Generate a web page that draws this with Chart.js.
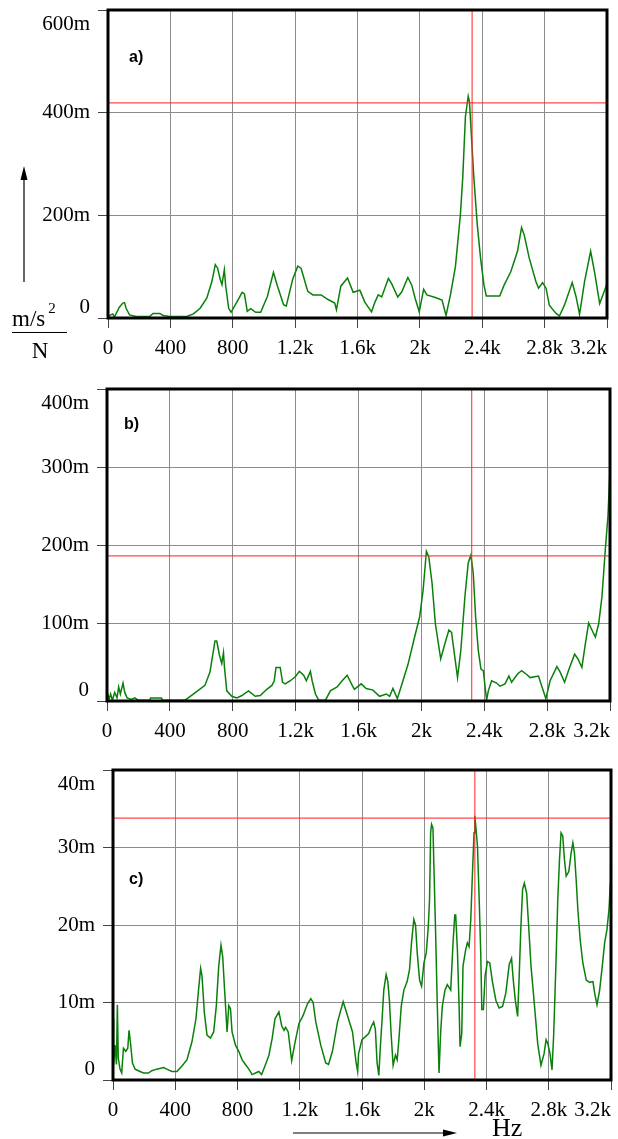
<!DOCTYPE html>
<html><head><meta charset="utf-8">
<script src="https://cdn.jsdelivr.net/npm/chart.js@4/dist/chart.umd.min.js"></script>
<style>
html,body{margin:0;padding:0;background:#fff;width:618px;height:1139px;overflow:hidden;position:relative}
canvas{position:absolute;left:0}
</style></head><body>
<canvas id="ca" width="618" height="365" style="top:0px"></canvas>
<canvas id="cb" width="618" height="370" style="top:370px"></canvas>
<canvas id="cc" width="618" height="389" style="top:750px"></canvas>
<script>
// ---- data (frequency in Hz, magnitude in m(m/s^2)/N) ----
const xTickLabels = ['0','400','800','1.2k','1.6k','2k','2.4k','2.8k','3.2k'];
const yTickLabelsA = ['0','200m','400m','600m'];
const yTickLabelsB = ['0','100m','200m','300m','400m'];
const yTickLabelsC = ['0','10m','20m','30m','40m'];
const panelNames = ['a)','b)','c)'];
const cursorFreq = [2335, 2320, 2325];
const cursorLevel = [419, 186, 33.8];

const freqA = [0,30,41,73,95,106,116,138,181,267,289,332,354,397,505,548,591,634,666,688,703,720,731,746,755,774,789,828,860,875,893,915,947,979,1022,1061,1087,1126,1143,1184,1217,1238,1281,1314,1367,1411,1454,1465,1493,1536,1572,1594,1615,1647,1690,1712,1733,1755,1798,1819,1858,1884,1923,1948,1970,1996,2024,2045,2099,2142,2168,2196,2228,2260,2275,2292,2310,2318,2331,2346,2368,2389,2411,2426,2512,2540,2583,2626,2652,2669,2701,2744,2761,2787,2809,2830,2873,2895,2927,2977,3002,3024,3056,3095,3120,3153,3185,3200];
const valA = [3,8,2,21,29,30,19,6,3,3,9,9,5,3,3,8,19,39,71,104,97,75,65,94,62,19,11,32,50,47,13,18,11,11,42,89,62,26,23,75,101,97,52,45,45,36,29,16,62,78,50,52,54,31,12,31,45,41,77,67,41,51,79,64,38,12,56,45,40,35,5,45,100,202,274,392,432,421,352,274,182,117,64,43,43,64,90,130,176,162,117,71,58,69,58,25,9,4,25,69,41,7,71,130,90,28,54,67];

const freqB = [0,13,23,34,49,64,74,85,102,113,128,155,177,198,272,277,347,353,496,517,570,623,655,687,698,715,730,741,747,762,794,826,858,900,943,975,1017,1049,1064,1075,1102,1117,1134,1166,1198,1224,1251,1268,1294,1305,1326,1347,1390,1421,1464,1496,1528,1560,1574,1617,1649,1692,1734,1777,1798,1819,1847,1872,1915,1957,1989,2011,2032,2047,2068,2089,2123,2149,2175,2192,2213,2230,2251,2277,2298,2315,2330,2345,2362,2379,2394,2415,2426,2447,2479,2500,2532,2557,2574,2613,2638,2670,2692,2745,2766,2792,2819,2862,2883,2911,2936,2975,2996,3021,3043,3064,3085,3107,3128,3149,3170,3187,3200];
const valB = [13,2,9,1,11,4,18,9,23,11,4,2,4,1,1,4,4,1,1,4,12,20,37,77,77,59,48,62,44,13,6,4,7,13,6,7,15,20,26,43,43,24,22,26,31,38,33,26,38,26,9,1,1,13,18,26,33,20,15,22,16,14,6,9,6,16,3,19,47,82,108,142,192,185,151,99,54,73,91,88,56,30,65,134,177,187,164,108,65,41,39,1,13,26,23,19,22,32,24,35,39,34,30,32,19,3,26,44,37,24,39,60,54,43,73,100,91,82,99,134,194,237,297];

const freqC = [0,4,13,22,28,34,45,56,67,82,95,103,112,125,142,163,196,228,249,282,325,346,378,411,443,475,507,533,550,563,572,587,604,626,647,664,679,694,705,718,733,744,755,765,787,808,830,851,873,894,916,937,955,980,1002,1023,1041,1066,1084,1099,1109,1126,1148,1170,1195,1221,1249,1271,1286,1303,1335,1367,1385,1410,1443,1479,1507,1539,1561,1572,1578,1600,1622,1643,1660,1675,1686,1697,1708,1718,1729,1740,1755,1766,1776,1787,1800,1815,1826,1837,1852,1869,1890,1905,1918,1933,1944,1955,1970,1983,1998,2013,2026,2034,2041,2047,2056,2062,2073,2084,2095,2105,2116,2133,2148,2170,2185,2196,2202,2213,2224,2230,2241,2249,2266,2277,2288,2299,2309,2320,2325,2331,2342,2353,2363,2370,2380,2391,2406,2421,2438,2460,2481,2503,2524,2546,2561,2572,2585,2600,2610,2621,2632,2643,2658,2671,2686,2707,2729,2750,2770,2783,2794,2808,2821,2832,2847,2858,2869,2879,2890,2901,2912,2929,2944,2955,2965,2976,2987,3002,3019,3041,3062,3084,3095,3110,3127,3144,3159,3174,3187,3196,3198];
const valC = [7.9,2.0,4.5,2.0,9.7,2.8,1.4,0.9,4.1,3.7,4.1,6.4,4.9,2.2,1.4,1.2,0.9,0.9,1.2,1.4,1.6,1.4,1.1,1.1,1.8,2.6,4.9,7.9,11.7,14.4,13.4,8.7,5.8,5.4,6.2,9.6,14.6,17.4,15.9,11.3,6.2,9.6,9.2,6.2,4.5,3.7,2.6,2.0,1.4,0.7,0.9,1.1,0.7,2.0,3.2,5.4,7.9,8.8,7.0,6.4,6.8,6.2,2.5,4.9,7.3,8.3,9.8,10.5,10.0,7.5,4.5,2.2,2.0,3.7,7.5,10.1,8.3,6.2,2.4,1.1,3.4,5.2,5.6,6.0,6.9,7.5,6.5,2.2,0.6,4.3,7.8,11.6,13.6,12.7,10.3,6.0,1.9,3.2,2.6,5.2,9.5,11.6,12.7,14.2,17.7,20.7,20.0,16.4,12.9,12.1,15.1,16.4,19.8,23.3,31.9,33.0,32.5,27.6,19.0,9.5,0.9,6.0,9.5,11.6,12.3,11.6,17.7,21.3,21.3,16.8,9.5,4.3,6.0,14.7,16.8,17.7,17.2,20.7,26.3,31.9,34.1,32.8,30.2,23.3,16.4,9.1,9.1,13.4,15.3,15.1,12.7,10.3,9.3,9.5,11.2,14.9,15.7,12.9,10.3,8.2,13.4,19.8,24.6,25.4,24.1,19.8,14.7,9.9,4.7,1.9,3.4,5.2,4.7,3.4,1.3,6.0,15.5,23.3,28.4,31.9,31.5,28.4,26.3,26.9,29.3,30.6,29.3,25.9,22.0,18.1,15.1,12.9,12.6,12.7,11.2,9.7,11.6,14.7,17.7,19.4,22.0,25.4,27.6];

// ---- drawing ----
const SERIF = '"Liberation Serif","Times New Roman",serif';
const TICKFONT = {family: SERIF, size: 21};

const decorPlugin = {
  id: 'decor',
  afterDatasetsDraw(chart, args, opts) {
    const ctx = chart.ctx, a = chart.chartArea;
    const ys = chart.scales.y, xs = chart.scales.x;
    ctx.save();
    // frame
    ctx.strokeStyle = '#000'; ctx.lineWidth = 3;
    ctx.strokeRect(a.left, a.top, a.right - a.left, a.bottom - a.top);
    // edge tick labels (shifted inward like the original)
    ctx.fillStyle = '#000';
    ctx.font = '21px ' + SERIF;
    ctx.textAlign = 'right'; ctx.textBaseline = 'middle';
    const labels = opts.yLabels;
    ctx.fillText(labels[labels.length-1], a.left - 18, ys.getPixelForValue(ys.max) + 14);
    ctx.fillText(labels[0], a.left - 18, ys.getPixelForValue(0) - 11);
    // last x tick label, right aligned on its tick
    ctx.textAlign = 'right'; ctx.textBaseline = 'top';
    ctx.fillText(xTickLabels[xTickLabels.length-1], xs.getPixelForValue(3200), a.bottom + opts.xLabelTop);
    // panel name
    ctx.font = 'bold 16px "Liberation Sans",Arial,sans-serif';
    ctx.textAlign = 'left'; ctx.textBaseline = 'middle';
    ctx.fillText(opts.name, opts.nameX, opts.nameY);
    if (opts.extra) opts.extra(ctx, chart);
    ctx.restore();
  }
};

function makeChart(id, freqs, vals, idx, yMax, yStep, yLabels, box, extra) {
  const pts = freqs.map((f, i) => ({x: f, y: vals[i]}));
  const canvas = document.getElementById(id);
  const H = canvas.height;
  return new Chart(canvas, {
    type: 'line',
    data: {
      datasets: [
        {data: [{x:0, y:cursorLevel[idx]}, {x:3200, y:cursorLevel[idx]}], borderColor: 'rgba(255,40,40,0.85)', borderWidth: 1.2, pointRadius: 0, order: 0},
        {data: [{x:cursorFreq[idx], y:0}, {x:cursorFreq[idx], y:yMax}], borderColor: 'rgba(255,40,40,0.85)', borderWidth: 1.2, pointRadius: 0, order: 0},
        {data: pts, borderColor: 'rgb(10,128,10)', borderWidth: 1.5, pointRadius: 0, tension: 0, order: 1}
      ]
    },
    options: {
      responsive: false, animation: false, devicePixelRatio: 1,
      layout: {padding: {left: 0, top: box.top, right: 618 - box.right, bottom: 0}},
      plugins: {legend: {display: false}, tooltip: {enabled: false},
        decor: {yLabels: yLabels, name: panelNames[idx], nameX: box.nameX, nameY: box.nameY, xLabelTop: 20, extra: extra}},
      scales: {
        x: {type: 'linear', min: 0, max: 3200,
          afterFit(s) { s.height = H - box.bottom; s.paddingLeft = 0; s.paddingRight = 0; },
          ticks: {stepSize: 400, autoSkip: false, maxRotation: 0, color: '#000', font: TICKFONT, padding: 8,
            callback: (v, i, t) => (i === t.length - 1 ? '' : xTickLabels[i])},
          grid: {color: '#8c8c8c', lineWidth: 1, tickLength: 10, tickColor: '#444'},
          border: {display: false}},
        y: {min: 0, max: yMax,
          afterFit(s) { s.width = box.left; s.paddingTop = 0; s.paddingBottom = 0; },
          ticks: {stepSize: yStep, color: '#000', font: TICKFONT, padding: 8,
            callback: (v, i, t) => (i === 0 || i === t.length - 1 ? '' : yLabels[i])},
          grid: {color: '#8c8c8c', lineWidth: 1, tickLength: 10, tickColor: '#444'},
          border: {display: false}}
      }
    },
    plugins: [decorPlugin]
  });
}

function yAxisTitle(ctx) {
  ctx.strokeStyle = '#000'; ctx.fillStyle = '#000'; ctx.lineWidth = 1.2;
  ctx.beginPath(); ctx.moveTo(24, 282); ctx.lineTo(24, 176); ctx.stroke();
  ctx.beginPath(); ctx.moveTo(24, 166); ctx.lineTo(20.5, 180); ctx.lineTo(27.5, 180); ctx.closePath(); ctx.fill();
  ctx.font = '23px ' + SERIF; ctx.textAlign = 'left'; ctx.textBaseline = 'alphabetic';
  ctx.fillText('m/s', 12, 326);
  const w = ctx.measureText('m/s').width;
  ctx.font = '15px ' + SERIF; ctx.fillText('2', 12 + w + 3, 313);
  ctx.lineWidth = 1;
  ctx.beginPath(); ctx.moveTo(12, 332.5); ctx.lineTo(67, 332.5); ctx.stroke();
  ctx.font = '23px ' + SERIF; ctx.textAlign = 'center';
  ctx.fillText('N', 40, 358);
}
function xAxisTitle(ctx) {
  ctx.strokeStyle = '#000'; ctx.fillStyle = '#000'; ctx.lineWidth = 1.2;
  ctx.beginPath(); ctx.moveTo(293, 383); ctx.lineTo(446, 383); ctx.stroke();
  ctx.beginPath(); ctx.moveTo(457, 383); ctx.lineTo(443, 379.5); ctx.lineTo(443, 386.5); ctx.closePath(); ctx.fill();
  ctx.font = '26px ' + SERIF; ctx.textAlign = 'left'; ctx.textBaseline = 'alphabetic';
  ctx.fillText('Hz', 492, 386);
}

makeChart('ca', freqA, valA, 0, 600, 200, yTickLabelsA, {left:108, top:10, right:607, bottom:318, nameX:129, nameY:58}, yAxisTitle);
makeChart('cb', freqB, valB, 1, 400, 100, yTickLabelsB, {left:107, top:19, right:610, bottom:331, nameX:124, nameY:55}, null);
makeChart('cc', freqC, valC, 2, 40, 10, yTickLabelsC, {left:113, top:20, right:611, bottom:330, nameX:129, nameY:130}, xAxisTitle);
</script>
</body></html>
